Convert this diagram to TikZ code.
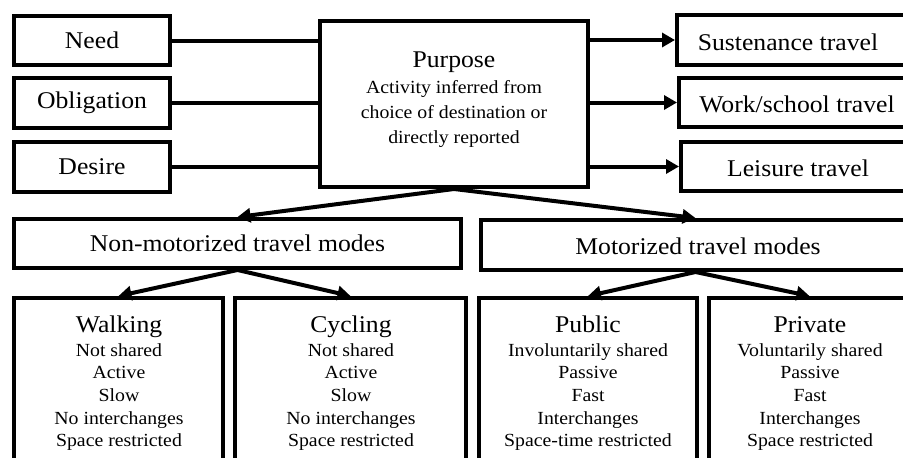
\documentclass[tikz,border=0pt]{standalone}
\usepackage{fontspec}
\setmainfont{Liberation Serif}[FakeStretch=1.07]
\usetikzlibrary{arrows.meta}
\newcommand{\bigf}{\fontsize{24}{28}\selectfont}
\newcommand{\smallf}{\fontsize{18.5}{22.7}\selectfont}
\newcommand{\purpf}{\fontsize{18.5}{25}\selectfont}
\begin{document}
\begin{tikzpicture}[x=1pt,y=-1pt,
  box/.style={draw, line width=4pt, inner sep=0pt, font=\bigf},
  conn/.style={line width=4pt},
  arr/.style={line width=4pt, -{Triangle[length=13pt,width=14pt]}},
  darr/.style={line width=4pt, {Triangle[length=13pt,width=14pt]}-{Triangle[length=13pt,width=14pt]}},
  title/.style={anchor=base, inner sep=0pt, font=\bigf},
  lines/.style={anchor=base, inner sep=0pt}]
\useasboundingbox (0,0) rectangle (903,458);
\fill[white] (0,0) rectangle (903,458);
\clip (0,0) rectangle (903,458);
% top left boxes
\node[box, minimum width=156pt, minimum height=49pt] (need) at (92,40.5) {Need};
\node[box, minimum width=156pt, minimum height=50pt] (obl) at (92,103) {Obligation};
\node[box, minimum width=156pt, minimum height=50pt] (des) at (92,167) {Desire};
% purpose
\node[box, minimum width=268pt, minimum height=166pt] (purp) at (454,104) {};
\node[title] (purpt) at (454,67) {Purpose};
\node[lines] (purpl) at (454,93) {\purpf\begin{tabular}[t]{@{}c@{}}Activity inferred from\\choice of destination or\\directly reported\end{tabular}};
% right boxes
\node[box, minimum width=233pt, minimum height=50pt] (sust) at (793.5,40) {};
\node[title] (sustt) at (788,50) {Sustenance travel};
\node[box, minimum width=231pt, minimum height=49pt] (work) at (794.5,102.5) {};
\node[title] (workt) at (797,112) {Work/school travel};
\node[box, minimum width=229pt, minimum height=49pt] (leis) at (795.5,166.5) {};
\node[title] (leist) at (798,176) {Leisure travel};
% mode boxes
\node[box, minimum width=447pt, minimum height=49pt] (nm) at (237.5,243.5) {Non-motorized travel modes};
\node[box, minimum width=429pt, minimum height=50pt] (mo) at (695.5,245) {};
\node[title] (mot) at (698,254) {Motorized travel modes};
% bottom boxes
\node[box, minimum width=209pt, minimum height=182pt] (walk) at (118.5,389) {};
\node[box, minimum width=231pt, minimum height=182pt] (cyc) at (350.5,389) {};
\node[box, minimum width=218pt, minimum height=182pt] (pub) at (588,389) {};
\node[box, minimum width=201pt, minimum height=182pt] (priv) at (809.5,389) {};
\node[title] (walkt) at (119,332) {Walking};
\node[lines] (walkl) at (119,356) {\smallf\begin{tabular}[t]{@{}c@{}}Not shared\\Active\\Slow\\No interchanges\\Space restricted\end{tabular}};
\node[title] (cyct) at (351,332) {Cycling};
\node[lines] (cycl) at (351,356) {\smallf\begin{tabular}[t]{@{}c@{}}Not shared\\Active\\Slow\\No interchanges\\Space restricted\end{tabular}};
\node[title] (pubt) at (588,332) {Public};
\node[lines] (publ) at (588,356) {\smallf\begin{tabular}[t]{@{}c@{}}Involuntarily shared\\Passive\\Fast\\Interchanges\\Space-time restricted\end{tabular}};
\node[title] (privt) at (810,332) {Private};
\node[lines] (privl) at (810,356) {\smallf\begin{tabular}[t]{@{}c@{}}Voluntarily shared\\Passive\\Fast\\Interchanges\\Space restricted\end{tabular}};
% connectors
\draw[conn] (need.east) -- (need.east -| purp.west);
\draw[conn] (obl.east) -- (obl.east -| purp.west);
\draw[conn] (des.east) -- (des.east -| purp.west);
\draw[arr] (sust.west -| purp.east) -- (sust.west);
\draw[arr] (work.west -| purp.east) -- (work.west);
\draw[arr] (leis.west -| purp.east) -- (leis.west);
\draw[darr] (nm.north) -- (purp.south) -- (mo.north);
\draw[darr] (walk.north) -- (nm.south) -- (cyc.north);
\draw[darr] (pub.north) -- (mo.south) -- (priv.north);
\end{tikzpicture}
\end{document}
